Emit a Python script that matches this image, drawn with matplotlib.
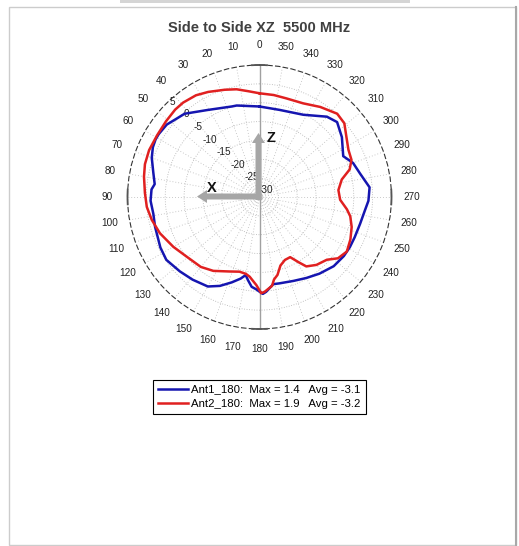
import numpy as np
import matplotlib.pyplot as plt
from matplotlib.patches import Rectangle, FancyArrow
from matplotlib.transforms import offset_copy

plt.rcParams['font.family'] = ['Liberation Sans', 'DejaVu Sans']

title = "Side to Side XZ  5500 MHz"

# Ant1 (blue), angle in deg (0 = top, counter-clockwise), gain in dB
ant1_deg = [0, 14, 17, 31, 42, 47, 52, 58, 61, 65, 70, 77, 83, 86, 92, 99, 106,
            117, 124, 133, 141, 150, 156, 162, 167, 170, 172, 175, 178, 180, 182,
            184, 189, 193, 202, 210, 218, 227, 235, 241, 247, 255, 263, 268, 275,
            283, 290, 296, 306, 314, 320, 332, 347]
ant1_db = [-6.0, -5.0, -4.9, -3.1, -0.3, 0.3, 1.2, 1.5, 1.5, 1.2, 0.4, -1.1, -2.0,
           -1.3, -1.1, -1.5, -1.2, -0.5, -0.2, -1.1, -1.8, -2.6, -4.2, -6.2, -7.8,
           -9.0, -7.8, -6.1, -5.5, -4.9, -4.3, -4.8, -6.6, -6.5, -6.0, -5.2, -4.2,
           -3.1, -2.7, -2.6, -2.6, -2.4, -1.8, -1.1, -0.7, -2.6, -3.6, -5.3, -3.0,
           -1.4, -2.2, -5.3, -6.3]

# Ant2 (red)
ant2_deg = [0, 6, 12, 18, 26, 32, 39, 44, 51, 59, 67, 74, 80, 88, 95, 102, 110,
            120, 129, 140, 148, 158, 165, 170, 173, 178, 181, 183, 188, 190, 193,
            197, 202, 207, 211, 214, 220, 227, 232, 238, 245, 252, 258, 262, 268,
            275, 282, 287, 292, 298, 305, 311, 317, 326, 335, 345, 352]
ant2_db = [-2.5, -1.8, -0.8, -0.1, 1.0, 1.8, 2.2, 2.2, 1.9, 1.7, 1.8, 1.6, 1.1,
           0.4, 0.0, -0.8, -1.9, -3.6, -5.0, -5.8, -6.9, -8.7, -9.5, -9.3, -8.7,
           -6.6, -4.5, -4.8, -6.2, -7.8, -8.8, -11.0, -12.0, -12.1, -9.8, -7.8,
           -6.5, -5.6, -3.6, -2.7, -3.4, -4.3, -5.4, -6.6, -8.6, -9.0, -7.7, -5.0,
           -3.7, -3.3, -1.9, -0.2, 0.2, -1.2, -2.6, -2.9, -2.7]

legend_labels = ["Ant1_180:  Max = 1.4   Avg = -3.1",
                 "Ant2_180:  Max = 1.9   Avg = -3.2"]
ring_ticks = [5, 0, -5, -10, -15, -20, -25, -30]
angle_ticks = list(range(0, 360, 10))
rmin, rmax = -30, 5

W, H = 519, 546
fig = plt.figure(figsize=(W / 100, H / 100), dpi=100)
fig.patch.set_facecolor('white')

# polar axes
ax = fig.add_axes([127.5 / W, 1 - 329 / H, 264 / W, 264 / H], projection='polar')
ax.set_theta_zero_location('N')
ax.set_theta_direction(1)
ax.set_ylim(rmin, rmax)
ax.set_xticks([])
ax.set_yticks([])
ax.grid(False)
ax.spines['polar'].set_linestyle((0, (4, 3)))
ax.spines['polar'].set_color('#333333')
ax.spines['polar'].set_linewidth(0.8)

th = np.linspace(0, 2 * np.pi, 361)
for r in ring_ticks[1:-1]:
    ax.plot(th, np.full_like(th, r), ls=(0, (1, 2)), color='#b0b0b0', lw=0.6, zorder=1)
for a in angle_ticks:
    if a % 180 == 0:
        continue
    ax.plot([np.radians(a)] * 2, [rmin, rmax], ls=(0, (1, 2.5)), color='#b8b8b8', lw=0.6, zorder=1)
ax.plot([0, 0], [rmin, rmax], color='#a0a0a0', lw=1.0, zorder=1)
ax.plot([np.pi, np.pi], [rmin, rmax], color='#a0a0a0', lw=1.0, zorder=1)
for a in [0, 90, 180, 270]:
    t = np.radians(np.linspace(a - 3.2, a + 3.2, 12))
    ax.plot(t, np.full_like(t, rmax), color='#555555', lw=1.3, clip_on=False, zorder=3)

# curves
d1 = np.radians(ant1_deg + [ant1_deg[0]])
d2 = np.radians(ant2_deg + [ant2_deg[0]])
l1, = ax.plot(d1, ant1_db + [ant1_db[0]], color='#1515b0', lw=1.8, zorder=4)
l2, = ax.plot(d2, ant2_db + [ant2_db[0]], color='#e02020', lw=1.8, zorder=5)

# angle labels
for a in angle_ticks:
    ax.text(np.radians(a), 10.3, str(a), ha='center', va='center', fontsize=7.2,
            color='#222222', clip_on=False)

# ring labels
trans = offset_copy(ax.transData, fig=fig, x=13.5, y=7, units='dots')
for r in ring_ticks:
    ax.text(np.radians(48), r, str(r), transform=trans, ha='right', va='center',
            fontsize=7.2, color='#222222', clip_on=False, zorder=2)

# overlay in pixel coordinates
ov = fig.add_axes([0, 0, 1, 1])
ov.set_xlim(0, W)
ov.set_ylim(H, 0)
ov.axis('off')
ov.patch.set_visible(False)

ov.add_patch(Rectangle((120, 0), 290, 3, color='#d5d5d5', lw=0))
ov.add_patch(Rectangle((9, 7), 507, 538, fill=False, ec='#cccccc', lw=1))
ov.plot([516, 516], [7, 545], color='#a8a8a8', lw=1.5)

ov.add_patch(FancyArrow(258.5, 200, 0, -67, width=6, head_width=13, head_length=10,
                        length_includes_head=True, color='#a6a6a6', lw=0))
ov.add_patch(FancyArrow(261.5, 196.5, -64.5, 0, width=6, head_width=13, head_length=10,
                        length_includes_head=True, color='#a6a6a6', lw=0))
ov.text(271.5, 138, 'Z', fontsize=10.5, fontweight='bold', ha='center', va='center', color='#111111')
ov.text(212, 188, 'X', fontsize=10.5, fontweight='bold', ha='center', va='center', color='#111111')

fig.text(259 / W, 1 - 27.5 / H, title, ha='center', va='center', fontsize=10.5,
         fontweight='bold', color='#404040')

leg = fig.legend([l1, l2], legend_labels, loc='upper left',
                 bbox_to_anchor=(153 / W, 1 - 380 / H), frameon=True, fancybox=False,
                 edgecolor='black', fontsize=8.2, handlelength=2.6, borderpad=0.45,
                 labelspacing=0.32, handletextpad=0.3, borderaxespad=0, framealpha=1)
leg.get_frame().set_linewidth(0.8)

fig.savefig('out.png', dpi=100)
